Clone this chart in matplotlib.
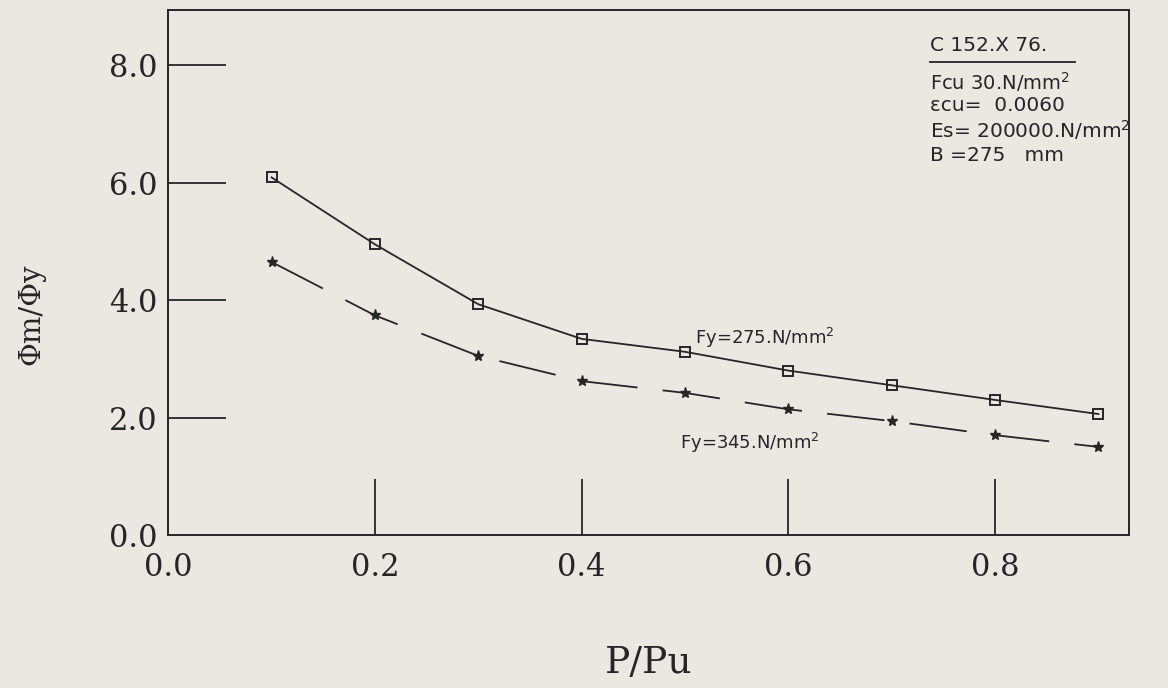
import matplotlib.pyplot as plt

# P/Pu values and ductility ratios
p_ratio = [0.1, 0.2, 0.3, 0.4, 0.5, 0.6, 0.7, 0.8, 0.9]
phi_fy275 = [6.09, 4.95, 3.93, 3.34, 3.12, 2.80, 2.55, 2.30, 2.06]
phi_fy345 = [4.65, 3.74, 3.05, 2.62, 2.42, 2.14, 1.94, 1.70, 1.50]

x_ticks = [0.0, 0.2, 0.4, 0.6, 0.8]
y_ticks = [0.0, 2.0, 4.0, 6.0, 8.0]

BG = '#ebe7e1'
INK = '#262626'

fig = plt.figure(figsize=(11.68, 6.88), dpi=100, facecolor=BG)
ax = fig.add_axes([0.144, 0.2224, 0.823, 0.763], facecolor=BG)

ax.plot(p_ratio, phi_fy275, color=INK, lw=1.3, marker='s', ms=7.5,
        mfc='none', mec=INK, mew=1.4)
ax.plot(p_ratio, phi_fy345, color=INK, lw=1.3, marker='*', ms=8,
        mfc=INK, mec=INK, linestyle=(0, (32, 14)))

ax.set_xlim(0, 0.93)
ax.set_ylim(0, 8.94)

# y ticks as long inward bars, x ticks inward from the bottom
ax.set_yticks(y_ticks)
ax.set_yticklabels(['%.1f' % v for v in y_ticks])
ax.set_xticks(x_ticks)
ax.set_xticklabels(['%.1f' % v for v in x_ticks])
ax.tick_params(axis='y', direction='in', length=42, width=1.3, color=INK,
               labelsize=22, pad=8, labelcolor=INK)
ax.tick_params(axis='x', direction='in', length=40, width=1.3, color=INK,
               labelsize=22, pad=12, labelcolor=INK)
for lab in ax.get_xticklabels() + ax.get_yticklabels():
    lab.set_family('DejaVu Serif')
ax.xaxis.get_major_ticks()[0].tick1line.set_visible(False)
ax.yaxis.get_major_ticks()[0].tick1line.set_visible(False)

for s in ax.spines.values():
    s.set_color(INK)
    s.set_linewidth(1.4)

ax.set_xlabel('P/Pu', fontsize=27, family='DejaVu Serif', color=INK)
ax.xaxis.set_label_coords(0.5, -0.21)
ax.set_ylabel('\u03a6m/\u03a6y', fontsize=21, family='DejaVu Serif', color=INK)
ax.yaxis.set_label_coords(-0.128, 0.42)

# section data block in the top right corner
tx = 0.737
ax.text(tx, 8.34, 'C 152.X 76.', fontsize=14.5, color=INK, va='center')
ax.plot([tx, 0.877], [8.05, 8.05], color=INK, lw=1.3)
ax.text(tx, 7.71, 'Fcu 30.N/mm$^2$', fontsize=14, color=INK, va='center')
ax.text(tx, 7.32, '\u03b5cu=  0.0060', fontsize=14.5, color=INK, va='center')
ax.text(tx, 6.89, 'Es= 200000.N/mm$^2$', fontsize=14.5, color=INK, va='center')
ax.text(tx, 6.47, 'B =275   mm', fontsize=14.5, color=INK, va='center')

ax.text(0.51, 3.35, 'Fy=275.N/mm$^2$', fontsize=13, color=INK, va='center')
ax.text(0.495, 1.57, 'Fy=345.N/mm$^2$', fontsize=13, color=INK, va='center')

fig.savefig('out.png', dpi=100, facecolor=BG)
